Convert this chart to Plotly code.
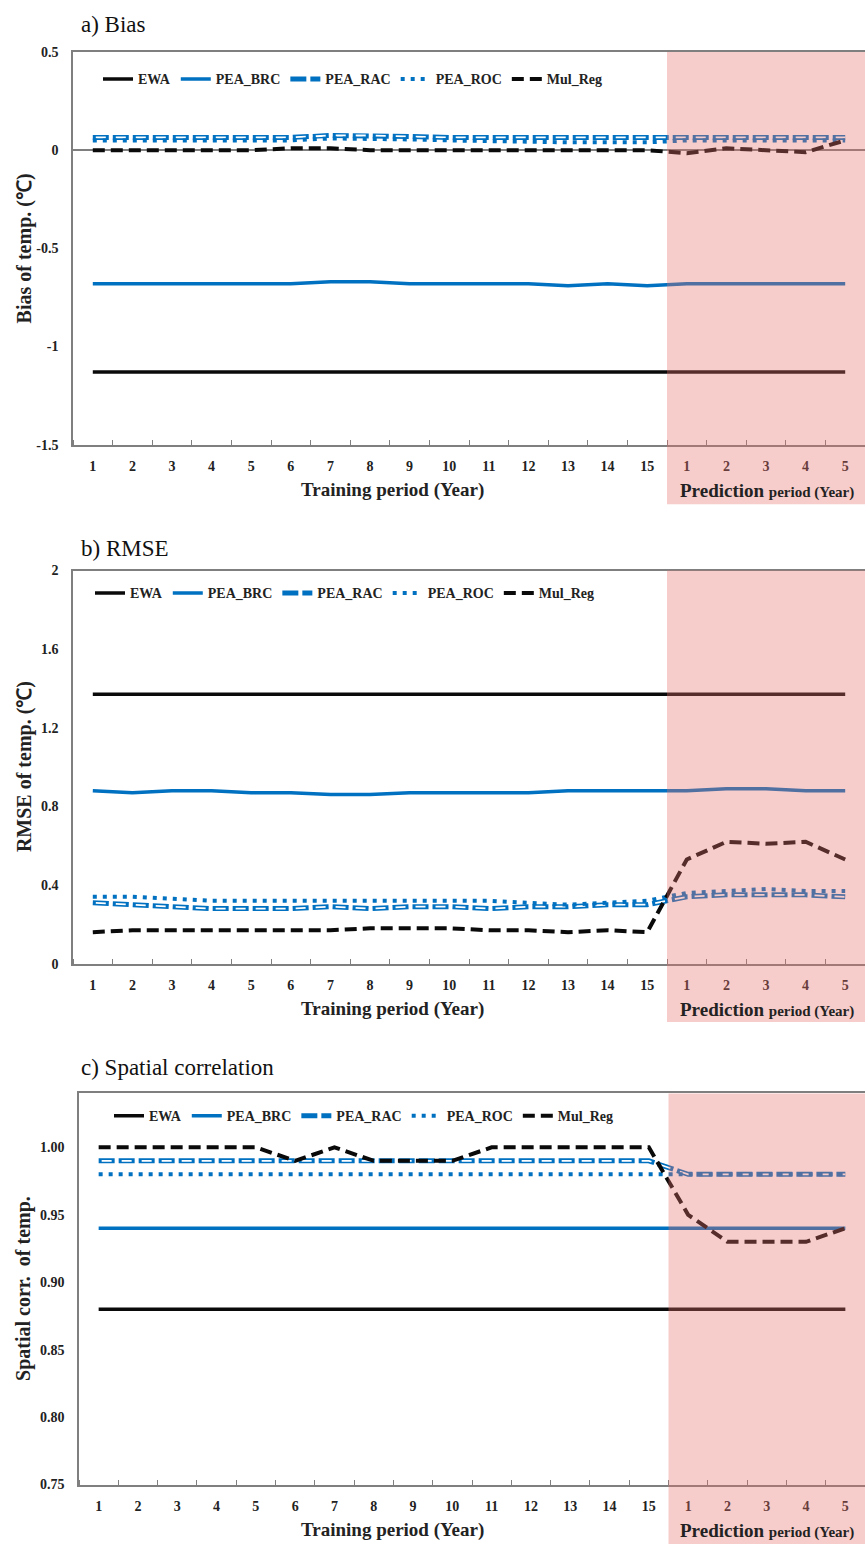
import plotly.graph_objects as go

# ---------------- data ----------------
tick_labels = [str(i) for i in range(1, 16)] + [str(i) for i in range(1, 6)]
xpos = list(range(20))

series_names = ["EWA", "PEA_BRC", "PEA_RAC", "PEA_ROC", "Mul_Reg"]

bias_ewa = [-1.13] * 20
bias_brc = [-0.68, -0.68, -0.68, -0.68, -0.68, -0.68, -0.67, -0.67, -0.68, -0.68,
            -0.68, -0.68, -0.69, -0.68, -0.69, -0.68, -0.68, -0.68, -0.68, -0.68]
bias_rac = [0.065, 0.065, 0.065, 0.065, 0.065, 0.065, 0.075, 0.075, 0.07, 0.065,
            0.065, 0.065, 0.065, 0.065, 0.065, 0.065, 0.065, 0.065, 0.065, 0.065]
bias_roc = [0.05, 0.05, 0.05, 0.05, 0.05, 0.05, 0.06, 0.06, 0.055, 0.05,
            0.045, 0.04, 0.04, 0.04, 0.04, 0.05, 0.05, 0.05, 0.05, 0.05]
bias_mul = [0.0, 0.0, -0.005, 0.0, 0.0, 0.01, 0.01, 0.0, 0.0, 0.0,
            0.0, 0.0, 0.0, 0.0, 0.0, -0.015, 0.01, 0.0, -0.01, 0.05]

rmse_ewa = [1.37] * 20
rmse_brc = [0.88, 0.87, 0.88, 0.88, 0.87, 0.87, 0.86, 0.86, 0.87, 0.87,
            0.87, 0.87, 0.88, 0.88, 0.88, 0.88, 0.89, 0.89, 0.88, 0.88]
rmse_rac = [0.31, 0.30, 0.29, 0.28, 0.28, 0.28, 0.29, 0.28, 0.29, 0.29,
            0.28, 0.29, 0.29, 0.30, 0.30, 0.34, 0.35, 0.35, 0.35, 0.34]
rmse_roc = [0.34, 0.34, 0.33, 0.32, 0.32, 0.32, 0.32, 0.32, 0.32, 0.32,
            0.32, 0.31, 0.30, 0.31, 0.32, 0.36, 0.37, 0.38, 0.37, 0.37]
rmse_mul = [0.16, 0.17, 0.17, 0.17, 0.17, 0.17, 0.17, 0.18, 0.18, 0.18,
            0.17, 0.17, 0.16, 0.17, 0.16, 0.53, 0.62, 0.61, 0.62, 0.53]

corr_ewa = [0.88] * 20
corr_brc = [0.94] * 20
corr_rac = [0.99] * 15 + [0.98] * 5
corr_roc = [0.98] * 20
corr_mul = [1.00, 1.00, 1.00, 1.00, 1.00, 0.99, 1.00, 0.99, 0.99, 0.99,
            1.00, 1.00, 1.00, 1.00, 1.00, 0.95, 0.93, 0.93, 0.93, 0.94]

# ---------------- styling ----------------
W, H = 865, 1552
FONT = "Liberation Serif, Times New Roman, serif"
BLUE = "rgb(0,112,192)"
BLACK = "rgb(10,10,10)"
AXC = "#7f7f7f"
PINK = "rgba(232,112,106,0.35)"


def py(px):
    return 1 - px / H


def pxx(px):
    return px / W


panels = [
    dict(key="", leg="legend", x0=73, top=45.5, bot=442, pink_bot=502,
         yr=[-1.5, 0.5], yt=[-1.5, -1, -0.5, 0, 0.5], ytt=["-1.5", "-1", "-0.5", "0", "0.5"],
         data=[bias_ewa, bias_brc, bias_rac, bias_roc, bias_mul],
         title="a) Bias", title_y=18, ytitle="Bias of temp. (℃)", zero=True,
         leg_y=73, leg_x=98),
    dict(key="2", leg="legend2", x0=73, top=569, bot=966, pink_bot=1025,
         yr=[0, 2], yt=[0, 0.4, 0.8, 1.2, 1.6, 2], ytt=["0", "0.4", "0.8", "1.2", "1.6", "2"],
         data=[rmse_ewa, rmse_brc, rmse_rac, rmse_roc, rmse_mul],
         title="b) RMSE", title_y=547, ytitle="RMSE of temp. (℃)", zero=False,
         leg_y=592, leg_x=90),
    dict(key="3", leg="legend3", x0=79, top=1097, bot=1492, pink_bot=1552,
         yr=[0.75, 1.04], yt=[0.75, 0.80, 0.85, 0.90, 0.95, 1.00],
         ytt=["0.75", "0.80", "0.85", "0.90", "0.95", "1.00"],
         data=[corr_ewa, corr_brc, corr_rac, corr_roc, corr_mul],
         title="c) Spatial correlation", title_y=1071, ytitle="Spatial corr.  of temp.", zero=False,
         leg_y=1120, leg_x=109),
]

fig = go.Figure()
annotations = []
shapes = []

for p in panels:
    k = p["key"]
    xa, ya = "x" + k, "y" + k
    ewa, brc, rac, roc, mul = p["data"]
    common = dict(x=xpos, xaxis=xa, yaxis=ya, mode="lines", legend=p["leg"])
    fig.add_trace(go.Scatter(y=ewa, name="EWA", line=dict(color=BLACK, width=3.5), **common))
    fig.add_trace(go.Scatter(y=brc, name="PEA_BRC", line=dict(color=BLUE, width=3.5), **common))
    fig.add_trace(go.Scatter(y=rac, name="PEA_RAC",
                             line=dict(color=BLUE, width=5, dash="16px,4px"), **common))
    fig.add_trace(go.Scatter(y=rac, name="PEA_RAC", showlegend=False, hoverinfo="skip",
                             line=dict(color="white", width=1.8, dash="0px,3px,10px,7px"), **common))
    fig.add_trace(go.Scatter(y=roc, name="PEA_ROC",
                             line=dict(color=BLUE, width=4, dash="4px,6px"), **common))
    fig.add_trace(go.Scatter(y=mul, name="Mul_Reg",
                             line=dict(color=BLACK, width=4, dash="12px,6px"), **common))

    dom_y = [py(p["bot"]), py(p["top"])]
    dom_x = [pxx(p["x0"]), 1.0]
    fig.layout["xaxis" + k] = dict(
        domain=dom_x, anchor=ya, range=[-0.5, 19.5],
        tickmode="array", tickvals=xpos, ticktext=[f"<b>{t}</b>" for t in tick_labels],
        ticks="", showgrid=False, zeroline=False,
        showline=True, linecolor=AXC, linewidth=1.5, mirror=True,
        tickfont=dict(family=FONT, size=14, color="#222"),
        ticklabelstandoff=8,
        minor=dict(tickmode="array", tickvals=[i - 0.5 for i in range(21)],
                   ticks="inside", ticklen=5, tickcolor=AXC, tickwidth=1.2, showgrid=False),
    )
    fig.layout["yaxis" + k] = dict(
        domain=dom_y, anchor=xa, range=p["yr"],
        tickmode="array", tickvals=p["yt"], ticktext=[f"<b>{t}</b>" for t in p["ytt"]],
        ticks="", showgrid=False,
        zeroline=p["zero"], zerolinecolor=AXC, zerolinewidth=1.5,
        showline=True, linecolor=AXC, linewidth=1.5,
        tickfont=dict(family=FONT, size=14, color="#222"),
        ticklabelstandoff=10,
    )

    fig.layout[p["leg"]] = dict(
        orientation="h", x=pxx(p["leg_x"]), xanchor="left",
        y=py(p["leg_y"]), yanchor="middle",
        font=dict(family=FONT, size=14, color="#222", weight="bold"),
        bgcolor="rgba(0,0,0,0)", borderwidth=0,
        tracegroupgap=0,
    )

    shapes.append(dict(type="rect", xref=xa, yref="paper", x0=14.5, x1=19.5,
                       y0=py(p["pink_bot"]), y1=py(p["top"]),
                       fillcolor=PINK, line=dict(width=0), layer="above"))

    annotations.append(dict(text=p["title"], x=pxx(79), y=py(p["title_y"]), xref="paper", yref="paper",
                            xanchor="left", yanchor="middle", showarrow=False,
                            font=dict(family=FONT, size=23, color="#111")))
    annotations.append(dict(text=f"<b>{p['ytitle']}</b>", x=pxx(24), y=(dom_y[0] + dom_y[1]) / 2,
                            xref="paper", yref="paper", textangle=-90, showarrow=False,
                            xanchor="center", yanchor="middle",
                            font=dict(family=FONT, size=20, color="#222")))
    lab_y = p["bot"] + 46
    annotations.append(dict(text="<b>Training period (Year)</b>", x=pxx(392), y=py(lab_y),
                            xref="paper", yref="paper", showarrow=False,
                            xanchor="center", yanchor="middle",
                            font=dict(family=FONT, size=19, color="#222")))
    annotations.append(dict(text="<b>Prediction <span style='font-size:15px'>period (Year)</span></b>",
                            x=pxx(767), y=py(lab_y), xref="paper", yref="paper", showarrow=False,
                            xanchor="center", yanchor="middle",
                            font=dict(family=FONT, size=19, color="#222")))

fig.update_layout(
    width=W, height=H, margin=dict(l=0, r=0, t=0, b=0),
    paper_bgcolor="white", plot_bgcolor="white",
    annotations=annotations, shapes=shapes,
    font=dict(family=FONT),
)

fig.write_html("out.html", config={"displayModeBar": False},
               post_script="document.body.style.margin='0';document.body.style.padding='0';")
